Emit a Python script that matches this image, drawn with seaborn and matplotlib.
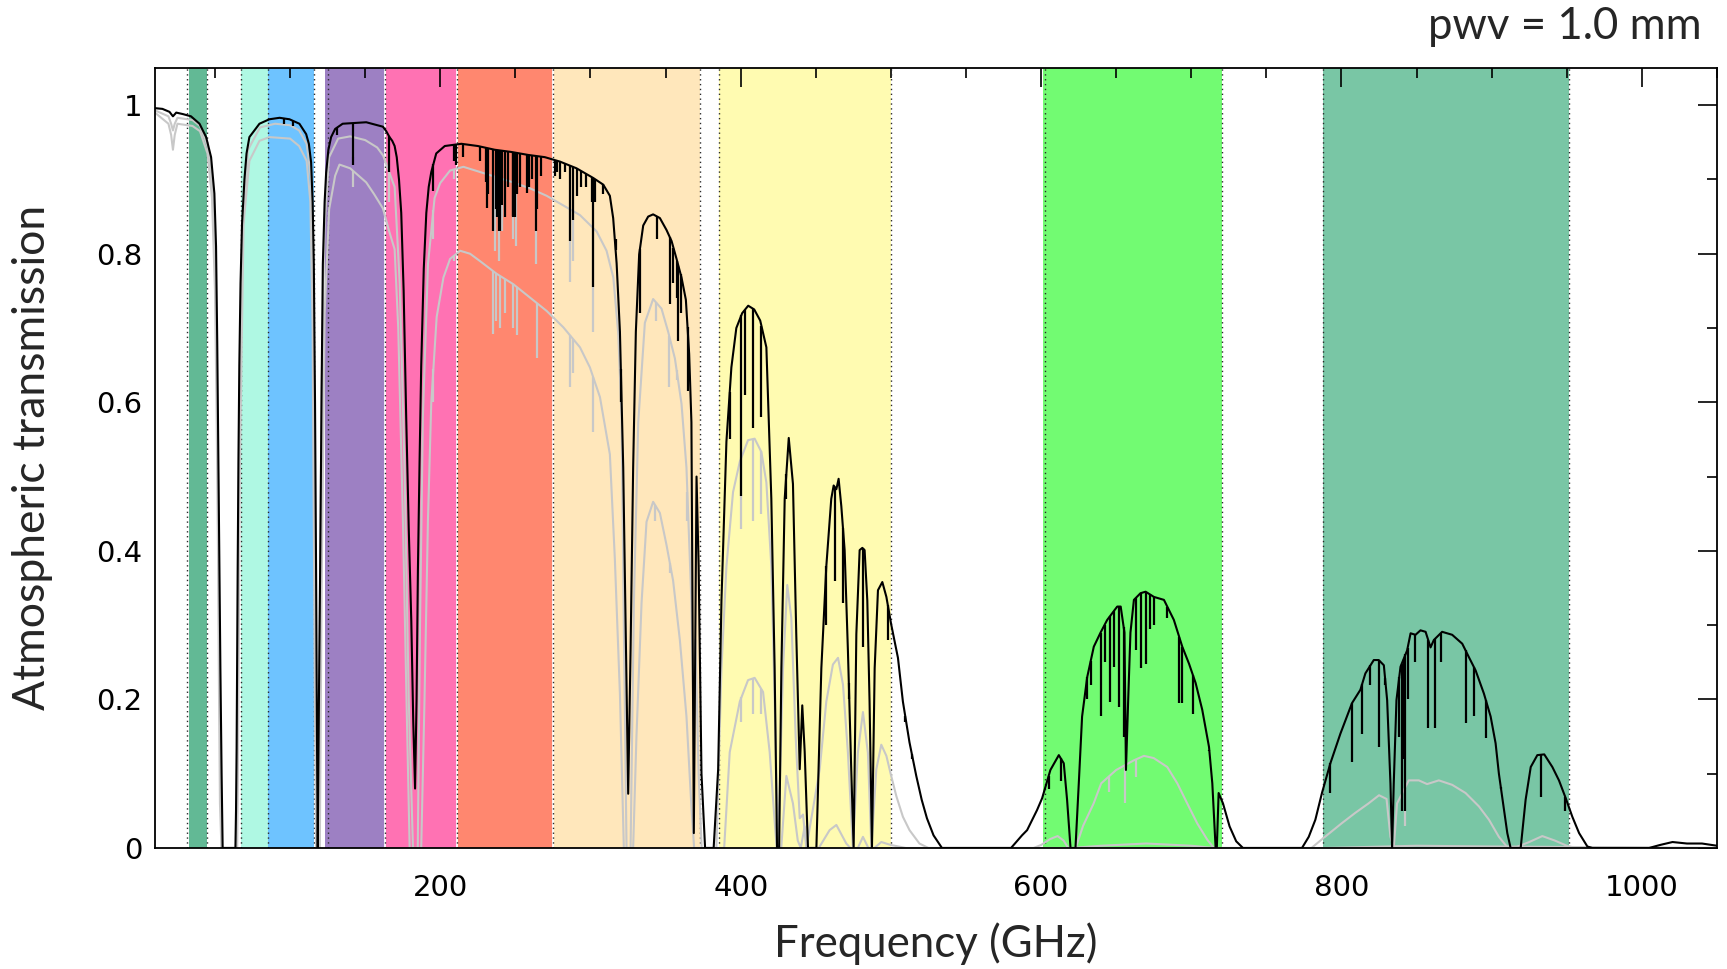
import numpy as np
import pandas as pd
import seaborn as sns
import matplotlib.pyplot as plt
from matplotlib.ticker import MultipleLocator

sns.set_style('white')
plt.rcParams['font.family'] = ['Lato', 'DejaVu Sans']

# ALMA bands: shaded ranges (GHz), colours, dotted edges
band_lo = [33, 67, 85, 123.5, 163, 211, 275, 385.5, 601.5, 787.5]
band_hi = [45, 85, 116, 163, 211, 275, 373, 500, 720.7, 951.8]
band_colors = ['#62b995', '#aff8e3', '#6ec3ff', '#9d80c3', '#ff72b3',
               '#ff876f', '#ffe7bb', '#fffbb1', '#72fb72', '#79c6a5']
band_edges = [31.3, 45, 67, 85, 116, 125, 163, 211, 275, 373, 385.5, 500,
              602.4, 720.7, 787.6, 951.8]
white_gaps = [163, 211, 275]

# pwv = 1.0 mm (black)
black_f = [10, 15, 19.7, 22, 24.2, 28.6, 34, 39.7, 44.1, 47.4, 49.6, 50.7, 51.5, 52.2, 53, 53.6, 54.4, 55.1,
           63.6, 64, 64.4, 65.1, 65.6, 66.2, 67, 68, 69.6, 71, 72.9, 79.6, 86.2, 93, 99.6, 106.2, 110.7,
           112.5, 114, 115, 115.8, 116.6, 117.3, 117.9, 118.4, 119.2, 120, 121, 121.8, 123, 124, 125.5,
           127.3, 130, 135, 150.7, 161.8, 164, 166.2, 168, 169.6, 171, 172.5, 174, 175.6, 177.3, 179,
           180.7, 182, 183.2, 184.2, 185.1, 186.2, 187.3, 189, 190.7, 192.3, 194, 197.3, 203, 214, 225,
           236.2, 247.3, 258.5, 269.6, 279.7, 290.7, 301.8, 308.5, 312.9, 315.1, 317.4, 319.6, 321.8,
           323.6, 325.1, 326.7, 328.4, 330.2, 332.4, 335.1, 338.4, 341.7, 346.2, 350.6, 354, 357.3,
           360.6, 363.5, 365.7, 367.2, 368.8, 370.6, 372, 373.9, 376.3, 382, 385, 387.2, 390.5,
           393.8, 397.1, 401, 405, 409, 413, 417.1, 420.4, 422.6, 424.2, 425.6, 427.1, 429.3,
           432, 434.8, 437, 439.3, 441, 442.6, 444.8, 450.4, 453.7, 457, 460.3, 461.9, 463.7,
           465.2, 467, 469.2, 471.4, 473.6, 475.2, 477, 479.2, 481, 482.5, 484.3, 485.8, 487.4,
           489.2, 491.4, 494.3, 497, 500.2, 504.7, 508, 512.4, 516.9, 520.5, 524, 528.4, 534,
           580, 587.3, 590.7, 597.3, 600.7, 606.2, 611.8, 615.1, 617.3, 619.6, 622.9, 625.1,
           627.3, 630.7, 635.1, 639.6, 644, 650.7, 653, 655.5, 656.5, 658, 659.5, 661.8, 666.2,
           669.6, 675.1, 681.8, 688.4, 694, 698.5, 702.9, 707.3, 711.8, 714, 716.2, 717, 718.2,
           721.1, 725.5, 729.9, 734.4, 773.7, 778.2, 782.6, 787, 792.6, 799.3, 807, 812.6,
           815.9, 821.5, 824.8, 828.2, 830.4, 832.6, 833.7, 834.8, 836.6, 839.3, 843.7, 846,
           849.3, 852.6, 856, 859.3, 861.5, 867, 873.7, 880.4, 884.8, 889.3, 894.8, 899.3,
           902.6, 904.8, 908.2, 910.4, 912.6, 919.3, 922.6, 926, 930.4, 935, 940.4, 944.8,
           949.3, 953.7, 958.2, 963.7, 967, 1004.8, 1012, 1020.4, 1030, 1040, 1050]
black_t = [0.996, 0.995, 0.991, 0.985, 0.99, 0.988, 0.985, 0.975, 0.957, 0.93, 0.881, 0.81, 0.68, 0.53, 0.36, 0.24, 0.1, 0,
           0, 0.05, 0.134, 0.374, 0.52, 0.65, 0.76, 0.84, 0.9, 0.935, 0.957, 0.975, 0.981, 0.983, 0.981, 0.975, 0.961,
           0.948, 0.923, 0.87, 0.786, 0.6, 0.374, 0.15, 0, 0.2, 0.374, 0.62, 0.786, 0.87, 0.909, 0.94,
           0.957, 0.968, 0.975, 0.977, 0.971, 0.965, 0.957, 0.952, 0.945, 0.93, 0.9, 0.855, 0.75, 0.58, 0.43,
           0.305, 0.17, 0.08, 0.2, 0.374, 0.52, 0.649, 0.78, 0.855, 0.89, 0.91, 0.935, 0.945, 0.948, 0.945,
           0.94, 0.937, 0.933, 0.93, 0.924, 0.915, 0.902, 0.893, 0.878, 0.848, 0.787, 0.695, 0.512,
           0.268, 0.073, 0.268, 0.512, 0.695, 0.799, 0.838, 0.85, 0.853, 0.848, 0.832, 0.817, 0.793,
           0.768, 0.738, 0.665, 0.573, 0.02, 0.5, 0.38, 0.1, 0, 0, 0.106, 0.333, 0.547,
           0.647, 0.7, 0.72, 0.73, 0.725, 0.71, 0.674, 0.47, 0.242, 0, 0, 0.242, 0.47,
           0.552, 0.49, 0.288, 0.106, 0.192, 0.13, 0, 0, 0.242, 0.379, 0.47, 0.488, 0.483,
           0.497, 0.46, 0.401, 0.265, 0.106, 0, 0.288, 0.401, 0.404, 0.401, 0.333, 0.197, 0,
           0.242, 0.347, 0.358, 0.338, 0.301, 0.256, 0.197, 0.142, 0.097, 0.065, 0.04, 0.017, 0,
           0, 0.017, 0.024, 0.051, 0.067, 0.105, 0.125, 0.114, 0.065, 0, 0, 0.087,
           0.177, 0.23, 0.271, 0.29, 0.307, 0.325, 0.325, 0.29, 0.105, 0.2, 0.29, 0.334, 0.343,
           0.345, 0.338, 0.334, 0.307, 0.271, 0.248, 0.222, 0.186, 0.136, 0.087, 0, 0, 0.074,
           0.06, 0.029, 0.009, 0, 0, 0.015, 0.038, 0.074, 0.114, 0.154, 0.195, 0.213,
           0.235, 0.253, 0.253, 0.246, 0.199, 0.087, 0, 0.087, 0.199, 0.244, 0.266, 0.289,
           0.287, 0.293, 0.291, 0.27, 0.28, 0.291, 0.287, 0.275, 0.257, 0.239, 0.208, 0.177,
           0.141, 0.1, 0.051, 0.02, 0, 0, 0.065, 0.109, 0.125, 0.126, 0.109, 0.091,
           0.067, 0.042, 0.02, 0.002, 0, 0, 0.004, 0.008, 0.006, 0.006, 0.003]

# higher pwv (upper grey)
grey1_f = [10, 19, 20.8, 22, 23.2, 25, 35, 40, 45, 48, 50, 51, 52, 52.8, 53.5, 54.5, 64.5, 65, 66, 68, 72, 80,
           90, 100, 106, 111, 114, 115.5, 117, 118.2, 119.5, 121, 123, 126, 132, 140, 150, 158, 162,
           165, 169.6, 173, 176.2, 179, 181.8, 185, 186.5, 188.4, 191.8, 196.2, 199.9, 206.5, 215.4,
           226.5, 237.5, 248.6, 259.7, 270.8, 281.9, 293, 304.1, 310.7, 315.2, 318.5, 320.7, 322.2,
           324, 326.7, 328.9, 331.8, 336.2, 341.7, 347.3, 351.7, 356.2, 360.6, 363.9, 367.2, 368.7,
           369.8, 372, 374, 383.8, 387.2, 390.5, 394.9, 399.4, 404.9, 409.3, 413.8, 417.1, 420.4,
           422.6, 424.9, 428.2, 431, 433.7, 436.6, 439.3, 441.5, 443.7, 452.6, 457, 461.4, 464.8,
           468.1, 471.4, 474.7, 478, 481.4, 484.7, 487, 490.3, 493.6, 497, 500.2, 503.6, 508, 512.4,
           519, 525, 595, 600, 606, 611, 615, 618, 623, 628, 635, 640, 650, 661.8, 668.5, 675, 684,
           690.7, 697.3, 704, 710.7, 715, 780, 789, 800, 809, 818, 825, 830, 832.6, 834.8, 837,
           844.8, 851.5, 857, 864.8, 873.7, 882.6, 891.5, 898.2, 904.8, 910, 915, 925, 933.7, 942,
           950, 956, 1050]
grey1_t = [0.993, 0.985, 0.975, 0.966, 0.975, 0.983, 0.98, 0.972, 0.945, 0.9, 0.8, 0.68, 0.5, 0.3, 0.12, 0, 0, 0.15, 0.5, 0.82, 0.94, 0.97,
           0.975, 0.973, 0.966, 0.948, 0.9, 0.72, 0.25, 0, 0.2, 0.62, 0.84, 0.93, 0.955, 0.958, 0.953, 0.943, 0.932,
           0.915, 0.89, 0.76, 0.51, 0.2, 0, 0, 0.3, 0.58, 0.786, 0.875, 0.895, 0.912, 0.917,
           0.91, 0.903, 0.896, 0.888, 0.878, 0.865, 0.852, 0.83, 0.804, 0.768, 0.692, 0.58, 0.3,
           0, 0, 0.33, 0.573, 0.707, 0.739, 0.726, 0.695, 0.659, 0.598, 0.512, 0.33, 0.16,
           0.28, 0.1, 0, 0, 0.242, 0.379, 0.479, 0.52, 0.549, 0.551, 0.533, 0.492, 0.379,
           0.2, 0, 0.242, 0.354, 0.31, 0.15, 0.04, 0.045, 0, 0.106, 0.197, 0.247, 0.256,
           0.22, 0.128, 0, 0.128, 0.183, 0.128, 0, 0.106, 0.139, 0.124, 0.097, 0.07, 0.042, 0.024,
           0.006, 0, 0, 0.004, 0.012, 0.016, 0.01, 0, 0, 0.03, 0.06, 0.087, 0.105, 0.118, 0.124, 0.121, 0.109,
           0.087, 0.06, 0.033, 0.011, 0, 0, 0.015, 0.033, 0.047, 0.06, 0.071, 0.066, 0.015, 0, 0.06,
           0.091, 0.091, 0.086, 0.091, 0.085, 0.074, 0.056, 0.038, 0.015, 0.002, 0, 0.008, 0.016, 0.01,
           0.003, 0, 0]

# highest pwv (lower grey)
grey2_f = [10, 19, 20.8, 22, 23.2, 25, 35, 40, 45, 48, 50, 51, 52, 52.7, 53.3, 54.3, 64.8, 65.3, 66.5, 69, 72.9,
           79.6, 86.2, 100, 106, 111, 113.5, 115, 116.5, 117.3, 119.8, 121, 123, 126, 130, 132.9, 140,
           150.7, 156, 161.8, 166, 169.6, 172, 175.1, 177.5, 179.6, 187.3, 189.5, 191.8, 194, 197.6,
           202.1, 206.5, 213.2, 219.8, 226.5, 237.5, 248.6, 259.7, 270.8, 281.9, 293, 299.6, 306.3,
           312.9, 316.2, 319.6, 322.2, 328.4, 330.6, 334, 337.3, 341.7, 346.2, 350.6, 355, 359.5,
           363.9, 367.2, 369, 389, 392.7, 399.4, 404.9, 409.3, 414.9, 419.3, 422.6, 424, 427, 430.4,
           434.8, 438, 440, 442.6, 444, 452, 459.2, 463.7, 470.3, 473, 478, 481.4, 485, 489, 493.6,
           500, 510, 620, 640, 670, 700, 715, 790, 850, 900, 1050]
grey2_t = [0.99, 0.975, 0.96, 0.94, 0.96, 0.975, 0.972, 0.965, 0.935, 0.875, 0.75, 0.6, 0.4, 0.2, 0.06, 0, 0, 0.12, 0.5, 0.84, 0.925,
           0.952, 0.957, 0.955, 0.945, 0.925, 0.87, 0.7, 0.2, 0, 0, 0.35, 0.72, 0.86, 0.905, 0.92, 0.915,
           0.896, 0.88, 0.861, 0.83, 0.806, 0.7, 0.443, 0.2, 0, 0, 0.2, 0.443, 0.6, 0.715,
           0.768, 0.793, 0.804, 0.8, 0.79, 0.773, 0.759, 0.741, 0.723, 0.701, 0.674, 0.647, 0.607,
           0.53, 0.39, 0.207, 0, 0, 0.15, 0.33, 0.439, 0.466, 0.451, 0.408, 0.36, 0.28,
           0.177, 0.055, 0, 0, 0.129, 0.197, 0.226, 0.229, 0.21, 0.129, 0.036, 0, 0, 0.097,
           0.06, 0.01, 0, 0.029, 0, 0, 0.024, 0.031, 0.006, 0, 0, 0.015, 0, 0, 0.008,
           0.004, 0, 0, 0.003, 0.006, 0.003, 0, 0, 0.003, 0.002, 0]

# narrow absorption lines: frequency and depth reached
black_line_f = [96.2, 101.8, 131, 142.2, 165.8, 195.4, 209, 210.7, 215.1, 226.2, 230.7, 231.3, 232,
                235.1, 236.9, 237.5, 238.9, 239.8, 241.1, 243.1, 245, 248.2, 248.7, 250, 251.3, 253,
                258, 258.8, 261, 263.7, 264.5, 267, 276.2, 278, 280, 283, 286.2, 288.4, 291.3, 293.6,
                297, 300.7, 301.8, 303, 308, 316.7, 320.2, 332.9, 344, 352.8, 355.2, 357.7, 358.5,
                360, 364.6, 392.7, 400.4, 402.7, 408.2, 413.8, 430.4, 457, 462.5, 468.1, 472, 481.4,
                498, 509.5, 514, 605, 613, 630.7, 633, 639.6, 642.3, 646, 648.5, 652, 655, 663,
                666.8, 670, 672.5, 675, 684, 692, 694, 701, 712, 792.6, 807, 813.7, 819.3, 825,
                829, 838.5, 840, 841.5, 842.6, 844, 849, 857.8, 862.2, 866, 882.6, 888, 896, 906,
                932.6, 949]
black_line_t = [0.975, 0.972, 0.96, 0.92, 0.91, 0.885, 0.925, 0.92, 0.93, 0.925, 0.896, 0.861, 0.88,
                0.83, 0.86, 0.85, 0.83, 0.83, 0.865, 0.85, 0.89, 0.85, 0.851, 0.85, 0.88, 0.89,
                0.882, 0.89, 0.9, 0.83, 0.86, 0.905, 0.905, 0.91, 0.9, 0.91, 0.817, 0.845, 0.878, 0.89,
                0.89, 0.87, 0.755, 0.87, 0.88, 0.82, 0.6, 0.72, 0.82, 0.732, 0.76, 0.74, 0.683,
                0.72, 0.615, 0.55, 0.474, 0.61, 0.565, 0.58, 0.47, 0.3, 0.36, 0.33, 0.2, 0.27,
                0.28, 0.17, 0.12, 0.08, 0.09, 0.2, 0.22, 0.177, 0.25, 0.197, 0.244, 0.19, 0.15, 0.266,
                0.242, 0.248, 0.295, 0.3, 0.31, 0.195, 0.195, 0.181, 0.13, 0.074, 0.116, 0.154, 0.219, 0.136,
                0.22, 0.15, 0.05, 0.12, 0.05, 0.2, 0.25, 0.161, 0.161, 0.25, 0.168, 0.177, 0.148, 0.08,
                0.069, 0.05]
grey1_line_f = [142, 165.8, 195.4, 209, 236.4, 238.9, 241, 248.6, 250.5, 263.7, 286.3, 288.5,
                301.8, 343.3, 352.4, 357.3, 364.5, 400.5, 408, 413.5, 645, 656, 663, 842]
grey1_line_t = [0.93, 0.87, 0.82, 0.9, 0.804, 0.79, 0.83, 0.82, 0.81, 0.786, 0.762, 0.79,
                0.695, 0.71, 0.62, 0.63, 0.44, 0.43, 0.44, 0.45, 0.075, 0.06, 0.095, 0.03]
grey2_line_f = [142, 165.8, 195.4, 209, 235.3, 237, 239.8, 243.1, 248.2, 250.8, 264.1, 286.3,
                288.5, 301.8, 343, 352.8, 400.5, 408, 413.6]
grey2_line_t = [0.89, 0.83, 0.6, 0.79, 0.692, 0.71, 0.7, 0.72, 0.7, 0.69, 0.66, 0.62,
                0.64, 0.56, 0.44, 0.37, 0.17, 0.18, 0.18]

xtick_vals = [200, 400, 600, 800, 1000]
ytick_vals = [0, 0.2, 0.4, 0.6, 0.8, 1]
ytick_labels = ['0', '0.2', '0.4', '0.6', '0.8', '1']

fig, ax = plt.subplots(figsize=(17.27, 9.69), dpi=100)
fig.subplots_adjust(left=0.0897, right=0.9942, bottom=0.1249, top=0.9298)

for lo, hi, c in zip(band_lo, band_hi, band_colors):
    ax.axvspan(lo, hi, color=c, lw=0, zorder=0)
for x in white_gaps:
    ax.axvline(x, color='white', lw=1.3, zorder=0.5)
for x in band_edges:
    ax.axvline(x, color='#2a2a2a', lw=1.0, ls=(0, (1, 2.5)), zorder=1)

curves = [(grey2_f, grey2_t, grey2_line_f, grey2_line_t, '#c8c8c8'),
          (grey1_f, grey1_t, grey1_line_f, grey1_line_t, '#c8c8c8'),
          (black_f, black_t, black_line_f, black_line_t, 'black')]
for f, t, lf, lt, col in curves:
    df = pd.DataFrame({'freq': f, 'trans': t})
    sns.lineplot(data=df, x='freq', y='trans', color=col, lw=1.5,
                 estimator=None, sort=False, ax=ax, zorder=2)
    tops = np.interp(lf, f, t)
    ax.vlines(lf, lt, tops, color=col, lw=1.6, zorder=2)

ax.set_xlim(10, 1050)
ax.set_ylim(0, 1.05)
ax.set_xticks(xtick_vals)
ax.set_xticklabels([str(v) for v in xtick_vals])
ax.set_yticks(ytick_vals)
ax.set_yticklabels(ytick_labels)
ax.xaxis.set_minor_locator(MultipleLocator(50))
ax.yaxis.set_minor_locator(MultipleLocator(0.1))
ax.tick_params(which='both', direction='in', top=True, right=True, width=1.2, colors='black')
ax.tick_params(which='major', length=14)
ax.tick_params(which='minor', length=7)
ax.tick_params(axis='x', which='major', pad=19)
ax.tick_params(axis='y', which='major', pad=9)
for lab in ax.get_xticklabels() + ax.get_yticklabels():
    lab.set_family('DejaVu Sans')
    lab.set_fontsize(21)
for s in ax.spines.values():
    s.set_linewidth(1.3)
    s.set_color('black')
ax.set_xlabel('')
ax.set_ylabel('')

fig.text(0.542, 0.026, 'Frequency (GHz)', fontsize=31.5, ha='center', va='center')
fig.text(0.019, 0.528, 'Atmospheric transmission', fontsize=32, ha='center', va='center', rotation=90)
fig.text(0.9855, 0.9727, 'pwv = 1.0 mm', fontsize=31.5, ha='right', va='center')

fig.savefig('out.png', dpi=100)
